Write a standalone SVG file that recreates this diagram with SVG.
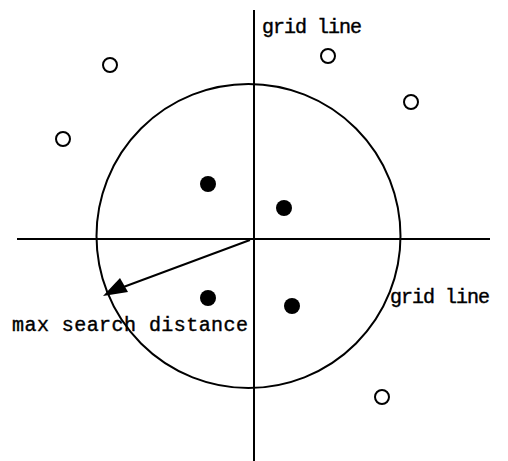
<svg xmlns="http://www.w3.org/2000/svg" width="508" height="461" viewBox="0 0 508 461">
<style>
.ln{stroke:#000;stroke-width:2;fill:none}
.open{fill:#fff;stroke:#000;stroke-width:2}
.full{fill:#000}
text{font-family:"Liberation Mono",monospace;font-size:20px;fill:#000;stroke:#000;stroke-width:0.4}
</style>
<rect width="508" height="461" fill="#fff"/>
<g id="connectors">
<line class="ln" x1="254" y1="10" x2="254" y2="461"/>
<line class="ln" x1="17" y1="239" x2="490" y2="239"/>
<circle id="search-circle" class="ln" cx="248.5" cy="236" r="152" stroke-width="1.5"/>
<line class="ln" x1="250" y1="240" x2="110" y2="292" stroke-width="1.5"/>
<path d="M103,296 L120,278 L128,292 Z" fill="#000"/>
</g>
<g id="open-points">
<circle class="open" cx="110" cy="65" r="7"/>
<circle class="open" cx="328" cy="56" r="7"/>
<circle class="open" cx="411" cy="102" r="7"/>
<circle class="open" cx="63" cy="139" r="7"/>
<circle class="open" cx="382" cy="397" r="7"/>
</g>
<g id="filled-points">
<circle class="full" cx="208" cy="184" r="8"/>
<circle class="full" cx="284" cy="208" r="8"/>
<circle class="full" cx="208" cy="298" r="8"/>
<circle class="full" cx="292" cy="306" r="8"/>
</g>
<g id="labels">
<text x="262" y="33" textLength="100" lengthAdjust="spacing">grid line</text>
<text x="390" y="303" textLength="100" lengthAdjust="spacing">grid line</text>
<text x="12" y="331" textLength="236" lengthAdjust="spacing">max search distance</text>
</g>
</svg>
